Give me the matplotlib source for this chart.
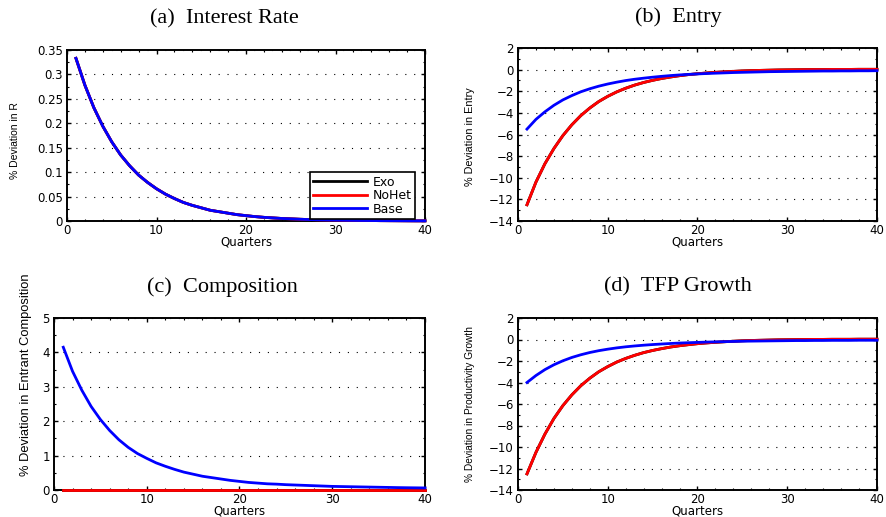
import matplotlib
matplotlib.use("Agg")
import matplotlib.pyplot as plt
from matplotlib.ticker import AutoMinorLocator

# quarters 1..40
quarters = list(range(1, 41))

# (a) interest rate: all three models coincide
rate_base = [0.333, 0.278, 0.232, 0.194, 0.162, 0.135, 0.113, 0.094, 0.079, 0.066,
             0.055, 0.046, 0.038, 0.032, 0.027, 0.022, 0.019, 0.016, 0.013, 0.011,
             0.009, 0.0075, 0.0063, 0.0052, 0.0044, 0.0036, 0.0030, 0.0025, 0.0021, 0.0018,
             0.0015, 0.0012, 0.0010, 0.0009, 0.0007, 0.0006, 0.0005, 0.0004, 0.0003, 0.0003]
rate_nohet = rate_base
rate_exo = rate_base

# (b) entry
entry_nohet = [-12.5, -10.4, -8.7, -7.3, -6.1, -5.1, -4.25, -3.55, -2.95, -2.47,
               -2.06, -1.72, -1.43, -1.19, -0.99, -0.82, -0.68, -0.56, -0.46, -0.38,
               -0.31, -0.25, -0.20, -0.16, -0.12, -0.09, -0.07, -0.05, -0.03, -0.02,
               -0.01, 0.0, 0.01, 0.01, 0.02, 0.02, 0.02, 0.03, 0.03, 0.03]
entry_exo = entry_nohet
entry_base = [-5.5, -4.6, -3.9, -3.3, -2.8, -2.4, -2.05, -1.77, -1.53, -1.33,
              -1.16, -1.01, -0.89, -0.79, -0.70, -0.62, -0.55, -0.49, -0.44, -0.40,
              -0.36, -0.33, -0.30, -0.27, -0.25, -0.23, -0.21, -0.19, -0.18, -0.17,
              -0.16, -0.15, -0.14, -0.13, -0.13, -0.12, -0.12, -0.11, -0.11, -0.10]

# (c) entrant composition
comp_exo = [0.0] * 40
comp_nohet = [0.0] * 40
comp_base = [4.15, 3.45, 2.9, 2.43, 2.05, 1.73, 1.46, 1.24, 1.06, 0.92,
             0.79, 0.69, 0.60, 0.52, 0.46, 0.40, 0.36, 0.32, 0.28, 0.25,
             0.22, 0.20, 0.18, 0.17, 0.155, 0.145, 0.135, 0.125, 0.115, 0.105,
             0.10, 0.095, 0.09, 0.085, 0.08, 0.075, 0.07, 0.066, 0.063, 0.06]

# (d) TFP growth
tfp_nohet = [-12.5, -10.5, -8.8, -7.35, -6.15, -5.15, -4.3, -3.6, -3.0, -2.52,
             -2.1, -1.76, -1.47, -1.22, -1.02, -0.85, -0.70, -0.58, -0.48, -0.39,
             -0.32, -0.26, -0.21, -0.16, -0.12, -0.09, -0.07, -0.05, -0.03, -0.02,
             -0.01, 0.0, 0.01, 0.01, 0.02, 0.02, 0.02, 0.03, 0.03, 0.03]
tfp_exo = tfp_nohet
tfp_base = [-4.0, -3.35, -2.8, -2.35, -1.98, -1.67, -1.42, -1.21, -1.04, -0.90,
            -0.78, -0.68, -0.60, -0.53, -0.47, -0.42, -0.37, -0.33, -0.30, -0.27,
            -0.24, -0.22, -0.20, -0.18, -0.16, -0.15, -0.14, -0.13, -0.12, -0.11,
            -0.10, -0.10, -0.09, -0.09, -0.08, -0.08, -0.08, -0.07, -0.07, -0.07]

plt.rcParams['font.family'] = ['DejaVu Sans']
plt.rcParams['axes.unicode_minus'] = True

fig = plt.figure(figsize=(8.87, 5.17), dpi=100)
W, H = 887.0, 517.0


def make_ax(left, top, right, bottom):
    return fig.add_axes([left / W, 1 - bottom / H, (right - left) / W, (bottom - top) / H])


# axes, title, title x, ylabel, ylabel size, ylabel x, ylabel y, series, ylim, yticks, ytick labels
panels = [
    (make_ax(67, 50, 425, 221), "(a)  Interest Rate", 0.4385, "% Deviation in R", 7.5, -0.131, 0.47,
     rate_exo, rate_nohet, rate_base, (0, 0.35), [0, 0.05, 0.1, 0.15, 0.2, 0.25, 0.3, 0.35],
     ['0', '0.05', '0.1', '0.15', '0.2', '0.25', '0.3', '0.35']),
    (make_ax(518, 48, 877, 221), "(b)  Entry", 0.446, "% Deviation in Entry", 7.8, -0.12, 0.49,
     entry_exo, entry_nohet, entry_base, (-14, 2), list(range(-14, 3, 2)), None),
    (make_ax(54, 318, 425, 490), "(c)  Composition", 0.455, "% Deviation in Entrant Composition", 9.3,
     -0.059, 0.67,
     comp_exo, comp_nohet, comp_base, (0, 5), [0, 1, 2, 3, 4, 5], None),
    (make_ax(518, 318, 877, 490), "(d)  TFP Growth", 0.446, "% Deviation in Productivity Growth", 7.3,
     -0.12, 0.5,
     tfp_exo, tfp_nohet, tfp_base, (-14, 2), list(range(-14, 3, 2)), None),
]

for (ax, title, tx, ylabel, ysize, ylx, yly, exo, nohet, base,
     ylim, yticks, ylabels) in panels:
    ax.plot(quarters, exo, color='black', lw=2, label='Exo', zorder=3, clip_on=False)
    ax.plot(quarters, nohet, color='red', lw=2, label='NoHet', zorder=3, clip_on=False)
    ax.plot(quarters, base, color='blue', lw=2, label='Base', zorder=3, clip_on=False)
    ax.set_xlim(0, 40)
    ax.set_ylim(*ylim)
    ax.set_xticks([0, 10, 20, 30, 40])
    ax.set_yticks(yticks)
    if ylabels is not None:
        ax.set_yticklabels(ylabels)
    ax.xaxis.set_minor_locator(AutoMinorLocator(5))
    ax.yaxis.set_minor_locator(AutoMinorLocator(2))
    ax.tick_params(which='both', direction='in', top=True, right=True, labelsize=8.5)
    ax.tick_params(axis='x', pad=2)
    ax.tick_params(axis='y', pad=3)
    ax.tick_params(which='major', length=3, width=1)
    ax.tick_params(which='minor', length=1.5, width=0.8)
    ax.yaxis.grid(True, which='major', color='black', linestyle=(0, (1, 7)), linewidth=0.8)
    for sp in ax.spines.values():
        sp.set_linewidth(1.4)
    ax.set_xlabel('Quarters', fontsize=8.5, labelpad=-1)
    ax.set_ylabel(ylabel, fontsize=ysize, family='Liberation Sans')
    ax.yaxis.set_label_coords(ylx, yly)
    ax.set_title(title, fontsize=16, family='Liberation Serif', pad=19, x=tx)

leg = panels[0][0].legend(loc='lower right', bbox_to_anchor=(0.972, 0.012), fontsize=9,
                          fancybox=False, framealpha=1, edgecolor='black', handlelength=4.3,
                          borderpad=0.25, labelspacing=0.05, borderaxespad=0, handletextpad=0.5)
leg.set_zorder(5)
leg.get_frame().set_linewidth(1.2)

fig.savefig('out.png', dpi=100)
